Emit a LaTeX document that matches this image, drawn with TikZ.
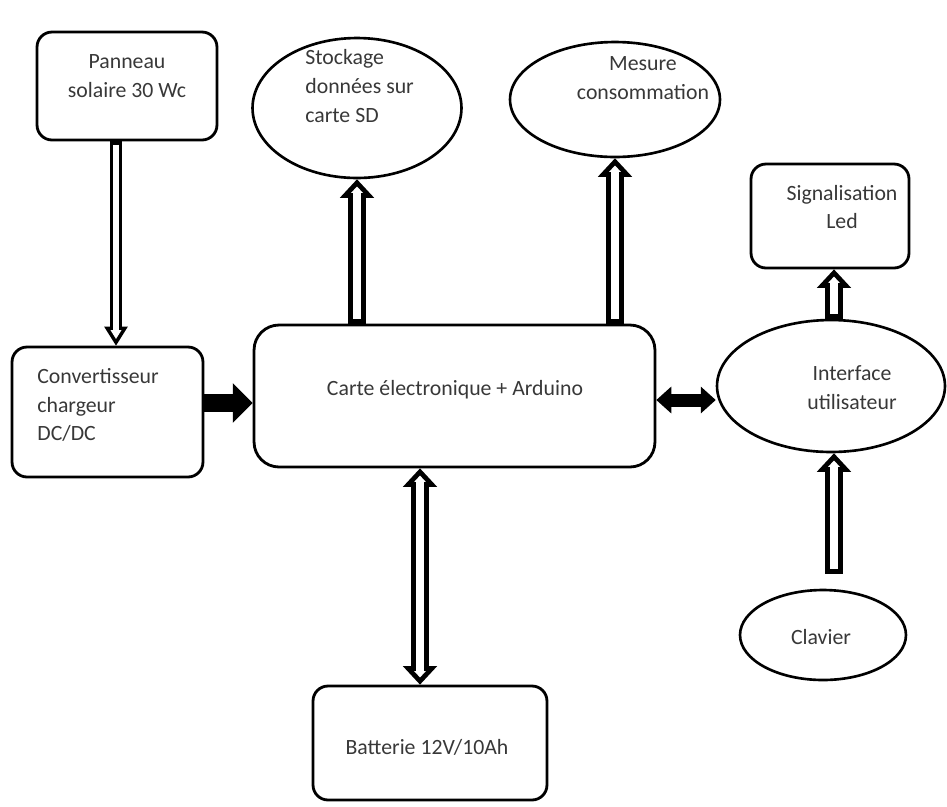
\documentclass[tikz,border=0pt]{standalone}
\usepackage{fontspec}
\setmainfont{Carlito}
\usetikzlibrary{shapes.geometric,arrows.meta,calc}
\definecolor{txtgray}{HTML}{383838}

\begin{document}
\begin{tikzpicture}[x=0.02cm, y=-0.02cm,
  box/.style={draw, line width=1.6pt, rounded corners=0.3cm, inner sep=0pt},
  oval/.style={draw, ellipse, line width=1.5pt, inner sep=0pt},
  lbl/.style={text=txtgray, inner sep=0pt, font=\fontsize{12.4}{16.4}\selectfont},
  hollow/.style={line width=10.6pt, -{Triangle[length=10.5pt,width=19.5pt,line width=0pt]},
    postaction={draw=white, line width=5pt, shorten <=2.8pt, shorten >=4.1pt,
      -{Triangle[length=3.6pt,width=6.7pt,line width=0pt]}}},
  hollow both/.style={line width=10.6pt,
    {Triangle[length=10.5pt,width=19.5pt,line width=0pt]}-{Triangle[length=10.5pt,width=19.5pt,line width=0pt]},
    postaction={draw=white, line width=5pt, shorten <=4.1pt, shorten >=4.1pt,
      {Triangle[length=3.6pt,width=6.7pt,line width=0pt]}-{Triangle[length=3.6pt,width=6.7pt,line width=0pt]}}},
  hollow thin/.style={line width=7pt, -{Triangle[length=10.8pt,width=13.5pt,line width=0pt]},
    postaction={draw=white, line width=3pt, shorten <=2pt, shorten >=3.8pt,
      -{Triangle[length=5pt,width=6.25pt,line width=0pt]}}},
  fat/.style={line width=10pt, -{Triangle[length=11.3pt,width=22.7pt,line width=0pt]}},
  fat both/.style={line width=7.4pt,
    {Triangle[length=8.5pt,width=15.3pt,line width=0pt]}-{Triangle[length=8.5pt,width=15.3pt,line width=0pt]}}]
  \useasboundingbox (0,0) rectangle (947,806);

  % --- Boxes ---
  \node[box, minimum width=3.6cm, minimum height=2.16cm] (panneau) at (127,86) {};
  \node[box, minimum width=3.82cm, minimum height=2.6cm] (conv) at (107.5,412) {};
  \node[box, rounded corners=0.5cm, minimum width=8.02cm, minimum height=2.84cm] (carte) at (454.5,396) {};
  \node[box, minimum width=3.16cm, minimum height=2.08cm] (signal) at (830,216) {};
  \node[box, minimum width=4.68cm, minimum height=2.28cm] (batt) at (430,743) {};

  % --- Ellipses ---
  \node[oval, minimum width=4.18cm, minimum height=2.8cm] (stock) at (357,108) {};
  \node[oval, minimum width=4.2cm, minimum height=2.3cm] (mesure) at (615,99.5) {};
  \node[oval, minimum width=4.56cm, minimum height=2.64cm] (interf) at (831,386) {};
  \node[oval, minimum width=3.32cm, minimum height=1.8cm] (clavier) at (823,635) {};

  % --- Texts ---
  \node[lbl, align=center] (tpan) at (127,76) {Panneau\\solaire 30 Wc};
  \node[lbl, align=left, anchor=west] (tsto) at (305,86) {Stockage\\données sur\\carte SD};
  \node[lbl, align=center] (tmes) at (643,78) {Mesure\\consommation};
  \node[lbl, align=center] (tsig) at (842,207) {Signalisation\\Led};
  \node[lbl, align=left, anchor=west] (tconv) at (37,405) {Convertisseur\\chargeur\\DC/DC};
  \node[lbl] (tcarte) at (455,390) {Carte électronique + Arduino};
  \node[lbl, align=center] (tint) at (852,388) {Interface\\utilisateur};
  \node[lbl] (tclav) at (821,637) {Clavier};
  \node[lbl] (tbatt) at (427,747) {Batterie 12V/10Ah};

  % --- Hollow arrows ---
  \draw[hollow thin] ($(panneau.south)+(-11,0)$) -- ($(panneau.south |- conv.north)+(-11,0)$);
  \draw[hollow] (stock.south |- carte.north) -- (stock.south);
  \draw[hollow] (mesure.south |- carte.north) -- (mesure.south);
  \draw[hollow both] ($(batt.north |- carte.south)+(-10,0)$) -- ($(batt.north)+(-10,0)$);
  \draw[hollow] ($(interf.north)+(3,0)$) -- ($(interf.north |- signal.south)+(3,0)$);
  \draw[hollow] ($(interf.south |- clavier.north)+(3,-15)$) -- ($(interf.south)+(3,0)$);

  % --- Black arrows ---
  \coordinate (fa) at ($(conv.east)+(0,-9)$);
  \draw[fat] (fa) -- (carte.west |- fa);
  \coordinate (fb) at ($(carte.east)+(0,4)$);
  \draw[fat both] (fb) -- (interf.west |- fb);
\end{tikzpicture}
\end{document}
